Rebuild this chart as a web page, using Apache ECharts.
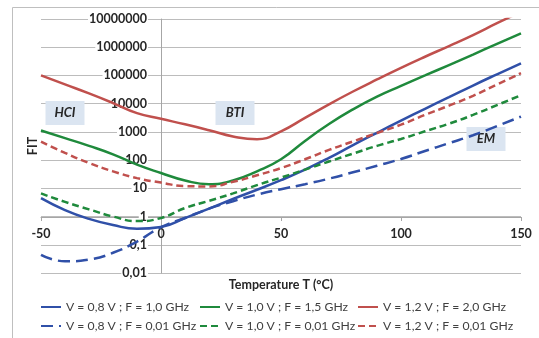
<!DOCTYPE html>
<html lang="fr">
<head>
    <meta charset="UTF-8">
    <title>FIT vs Temperature</title>
</head>
<script src="https://cdn.jsdelivr.net/npm/echarts@6/dist/echarts.min.js"></script>
<body style="margin:0">
    <div id="echarts" style="height: 338px;width:539px"></div>
</body>
<script>
    // temperatures (°C) at which the curves were read
    const temps = [-50, -40, -30, -20, -10, 0, 10, 20, 30, 40, 50, 60, 70, 80, 90, 100, 110, 120, 130, 140, 150];

    // FIT values
    const fitV08F10 = [4.5, 1.7, 0.83, 0.5, 0.37, 0.43, 0.89, 1.9, 4.2, 8.9, 19.5, 46, 120, 340, 930, 2500, 6600, 17000, 44000, 110000, 270000];
    const fitV10F15 = [1120, 600, 320, 160, 69, 35, 19, 14, 19, 40, 107, 480, 1900, 6300, 17800, 42700, 100000, 234000, 550000, 1320000, 3090000];
    const fitV12F20 = [100000, 48000, 23000, 10500, 4600, 2900, 1860, 1150, 690, 550, 1050, 3150, 9500, 27000, 72000, 186000, 460000, 1100000, 2700000, 7100000, 18000000];
    const fitV08F001 = [0.044, 0.026, 0.03, 0.052, 0.13, 0.42, 0.89, 1.9, 3.5, 6.0, 9.3, 14, 22, 37, 63, 110, 210, 400, 760, 1600, 3500];
    const fitV10F001 = [6.6, 3.3, 1.8, 1.0, 0.69, 0.89, 2.0, 3.6, 6.6, 13, 24, 46, 89, 170, 320, 560, 1050, 1950, 4000, 8900, 20000];
    const fitV12F001 = [450, 180, 79, 40, 23, 16, 12, 11.7, 17, 29, 52, 107, 230, 460, 910, 1800, 4000, 8500, 19000, 48000, 120000];

    const seriesNames = [
      'V = 0,8 V ; F = 1,0 GHz', 'V = 0,8 V ; F = 0,01 GHz',
      'V = 1,0 V ; F = 1,5 GHz', 'V = 1,0 V ; F = 0,01 GHz',
      'V = 1,2 V ; F = 2,0 GHz', 'V = 1,2 V ; F = 0,01 GHz',
    ];

    // mechanism labels: [temperature, FIT] of the box centre
    const annotations = [
      { text: 'HCI', at: [-40, 4700] },
      { text: 'BTI', at: [31, 4700] },
      { text: 'EM', at: [135.5, 560] },
    ];

    const blue = '#3050a8', green = '#1f8a3c', red = '#c0504d';
    const font = 'Lato';

    const pairs = vals => temps.map((t, i) => [t, vals[i]]);

    function line(name, vals, color, dash) {
      return {
        name: name,
        type: 'line',
        smooth: true,
        symbol: 'none',
        data: pairs(vals),
        lineStyle: { color: color, width: 2.5, type: dash || 'solid' },
        itemStyle: { color: color },
      };
    }

    // one legend per colour, two rows each
    function legendCol(names, left) {
      return {
        data: names,
        orient: 'vertical',
        left: left,
        top: 299,
        padding: 0,
        itemWidth: 20,
        itemHeight: 14,
        itemGap: 3,
        itemStyle: { opacity: 0 }, // pas de symbole, seulement le trait
        textStyle: { fontFamily: font, fontSize: 12.2, lineHeight: 16, color: '#404040' },
      };
    }

    let myChart = window.echarts.init(document.getElementById('echarts'));

    let option = {
      animation: false,
      backgroundColor: '#fff',
      grid: { left: 41, right: 18, top: 19, bottom: 65, containLabel: false, outerBoundsMode: 'none' },
      legend: [
        legendCol(seriesNames.slice(0, 2), 40),
        legendCol(seriesNames.slice(2, 4), 199),
        legendCol(seriesNames.slice(4, 6), 357),
      ],
      xAxis: {
        type: 'value',
        min: -50,
        max: 150,
        interval: 50,
        offset: -56, // axe des x passe par FIT = 1
        axisLine: { onZero: false, lineStyle: { color: '#a6a6a6', width: 1 } },
        axisTick: { show: true, length: 4, lineStyle: { color: '#a6a6a6' } },
        splitLine: { show: false },
        axisLabel: { margin: 10, fontFamily: font, fontSize: 12.5, fontWeight: 'bold', color: '#262626' },
        name: 'Temperature T (°C)',
        nameLocation: 'middle',
        nameGap: 61,
        nameTextStyle: { fontFamily: font, fontSize: 12.5, fontWeight: 'bold', color: '#262626' },
      },
      yAxis: {
        type: 'log',
        logBase: 10,
        min: 0.01,
        max: 10000000,
        splitNumber: 9,
        offset: -120, // axe des y passe par T = 0
        axisLine: { show: true, onZero: false, lineStyle: { color: '#a6a6a6', width: 1 } },
        axisTick: { show: false },
        splitLine: { show: true, lineStyle: { color: '#bcbcbc', width: 1.2 } },
        axisLabel: {
          margin: 13,
          fontFamily: font,
          fontSize: 12.5,
          fontWeight: 'bold',
          color: '#262626',
          backgroundColor: '#fff',
          padding: [0, 1],
          formatter: v => v >= 1 ? String(Math.round(v)) : String(+v.toPrecision(1)).replace('.', ','),
        },
        name: 'FIT',
        nameLocation: 'middle',
        nameRotate: 90,
        nameGap: 122,
        nameTextStyle: { fontFamily: font, fontSize: 12.5, fontWeight: 'bold', color: '#262626' },
      },
      series: [
        line(seriesNames[0], fitV08F10, blue),
        line(seriesNames[1], fitV08F001, blue, [12, 6]),
        line(seriesNames[2], fitV10F15, green),
        line(seriesNames[3], fitV10F001, green, [7, 4]),
        line(seriesNames[4], fitV12F20, red),
        line(seriesNames[5], fitV12F001, red, [7, 4]),
      ],
    };
    myChart.setOption(option);

    // boxes placed through the chart's own scales
    const boxes = annotations.map(a => {
      const p = myChart.convertToPixel({ gridIndex: 0 }, a.at);
      return {
        type: 'group',
        x: Math.round(p[0]),
        y: Math.round(p[1]),
        z: 100,
        children: [
          { type: 'rect', shape: { x: -19.5, y: -12, width: 39, height: 24 }, style: { fill: '#dbe5f1' } },
          {
            type: 'text',
            style: {
              text: a.text, x: 0, y: 0, align: 'center', verticalAlign: 'middle',
              font: 'italic bold 13px ' + font, fill: '#262626',
            },
          },
        ],
      };
    });
    myChart.setOption({
      graphic: [
        { type: 'rect', shape: { x: 12.5, y: 7.5, width: 700, height: 500 }, style: { fill: null, stroke: '#bfbfbf', lineWidth: 1 }, silent: true },
      ].concat(boxes),
    });
</script>
</html>
